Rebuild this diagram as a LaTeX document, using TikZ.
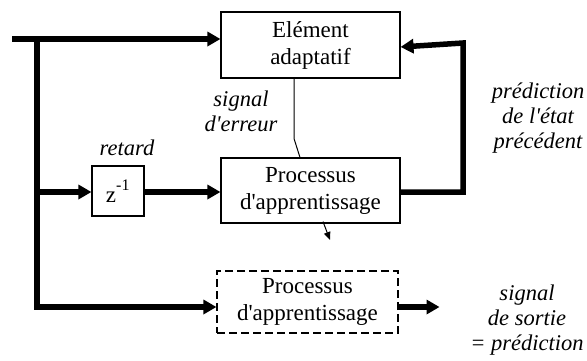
\documentclass[tikz,border=0pt]{standalone}
\usepackage{fontspec}
\setmainfont{Liberation Serif}
\usetikzlibrary{arrows.meta}
\begin{document}
\begin{tikzpicture}[x=1pt,y=-1pt,
      font=\fontsize{23}{27}\selectfont,
      box/.style={draw,line width=1.1pt,align=center,inner sep=0pt,
        minimum width=179pt,minimum height=65pt},
      bus/.style={line width=5.5pt,-{Triangle[length=13pt,width=14pt]}},
      lbl/.style={font=\fontsize{22.5}{25}\selectfont\itshape,align=center}]
      \useasboundingbox (0,0) rectangle (587,360);
      \node[box,minimum height=66pt] (elem) at (310.5,45) {Elément\\adaptatif};
      \node[box] (proc) at (310.5,190.5) {Processus\\d\textquotesingle apprentissage};
      \node[box,dashed,dash pattern=on 8pt off 4pt,minimum width=181pt,minimum height=62pt]
        (dproc) at (307.5,302) {Processus\\d\textquotesingle apprentissage};
      \node[box,minimum width=52pt,minimum height=50pt] (delay) at (118,191)
        {z\raisebox{3pt}{\textsuperscript{-1}}};
      \foreach \name/\x/\y/\txt in {err/241/111/{signal\\d\textquotesingle erreur},
          ret/127/148/{retard},
          prev/538/118/{prédiction\\de l\textquotesingle état\\précédent},
          outsig/527/320/{signal\\de sortie\\= prédiction}} {
        \node[lbl] (\name) at (\x,\y) {\txt};
      }
      \coordinate (in) at (12,39);
      \coordinate (split) at (37,39);
      \coordinate (low) at (37,307);
      \coordinate (tap) at (37,192);
      \coordinate (back) at (463,192);
      \coordinate (sink) at (330,240);
      % thick signal paths
      \draw[bus] (in) -- (in -| elem.west);
      \draw[bus] (split) -- (low) -- (low -| dproc.west);
      \draw[bus] (tap) -- (tap -| delay.west);
      \draw[bus] (delay.east |- tap) -- (tap -| proc.west);
      \draw[bus] (proc.east |- back) -- (back) -- ++(0,-149) -- ([yshift=-2pt]elem.east);
      \draw[bus] (dproc.east |- low) -- ++(41,0);
      % thin links
      \draw[line width=1pt] ([xshift=-16.5pt]elem.south) -- ++(0,60) -- ([xshift=-10.5pt]proc.north);
      \draw[line width=1pt,-{Triangle[length=8pt,width=6.5pt]}] ([xshift=12.5pt,yshift=2pt]proc.south) -- (sink);
    \end{tikzpicture}
\end{document}
